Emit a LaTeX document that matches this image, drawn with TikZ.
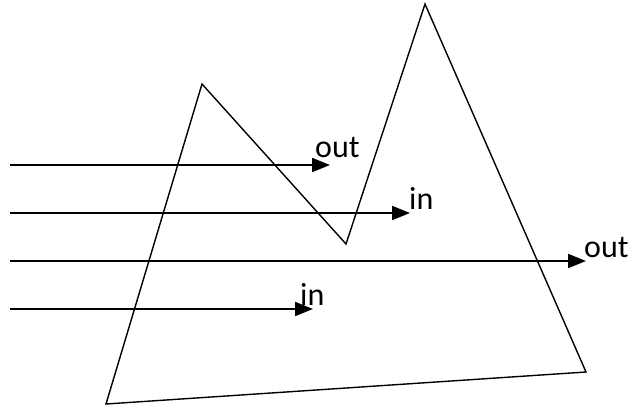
\documentclass[tikz,border=0pt]{standalone}
\usepackage{fontspec}
\setmainfont{Carlito}
\usetikzlibrary{arrows.meta}
\tikzset{
  shape line/.style={line width=1.4pt, line join=miter},
  ray/.style={line width=2pt, -{Triangle[length=18pt,width=14pt]}},
  lbl/.style={anchor=base west, inner sep=0pt, font=\fontsize{32}{38}\selectfont}
}
\begin{document}
\begin{tikzpicture}[x=1pt,y=-1pt]
\useasboundingbox (0,0) rectangle (628,407);
% polygon
\coordinate (p1) at (106,404);
\coordinate (p2) at (202,84);
\coordinate (p3) at (346,244);
\coordinate (p4) at (425,4);
\coordinate (p5) at (586,372);
\draw[shape line] (p1) -- (p2) -- (p3) -- (p4) -- (p5) -- cycle;
% rays
\coordinate (s1) at (10,165);
\coordinate (e1) at (330,165);
\coordinate (s2) at (10,213);
\coordinate (e2) at (410,213);
\coordinate (s3) at (10,261);
\coordinate (e3) at (586,261);
\coordinate (s4) at (10,309);
\coordinate (e4) at (313,309);
\draw[ray] (s1) -- (e1);
\draw[ray] (s2) -- (e2);
\draw[ray] (s3) -- (e3);
\draw[ray] (s4) -- (e4);
\node[lbl] (l1) at (315,157) {out};
\node[lbl] (l2) at (409,209) {in};
\node[lbl] (l3) at (584,257) {out};
\node[lbl] (l4) at (300,305) {in};
\end{tikzpicture}
\end{document}
